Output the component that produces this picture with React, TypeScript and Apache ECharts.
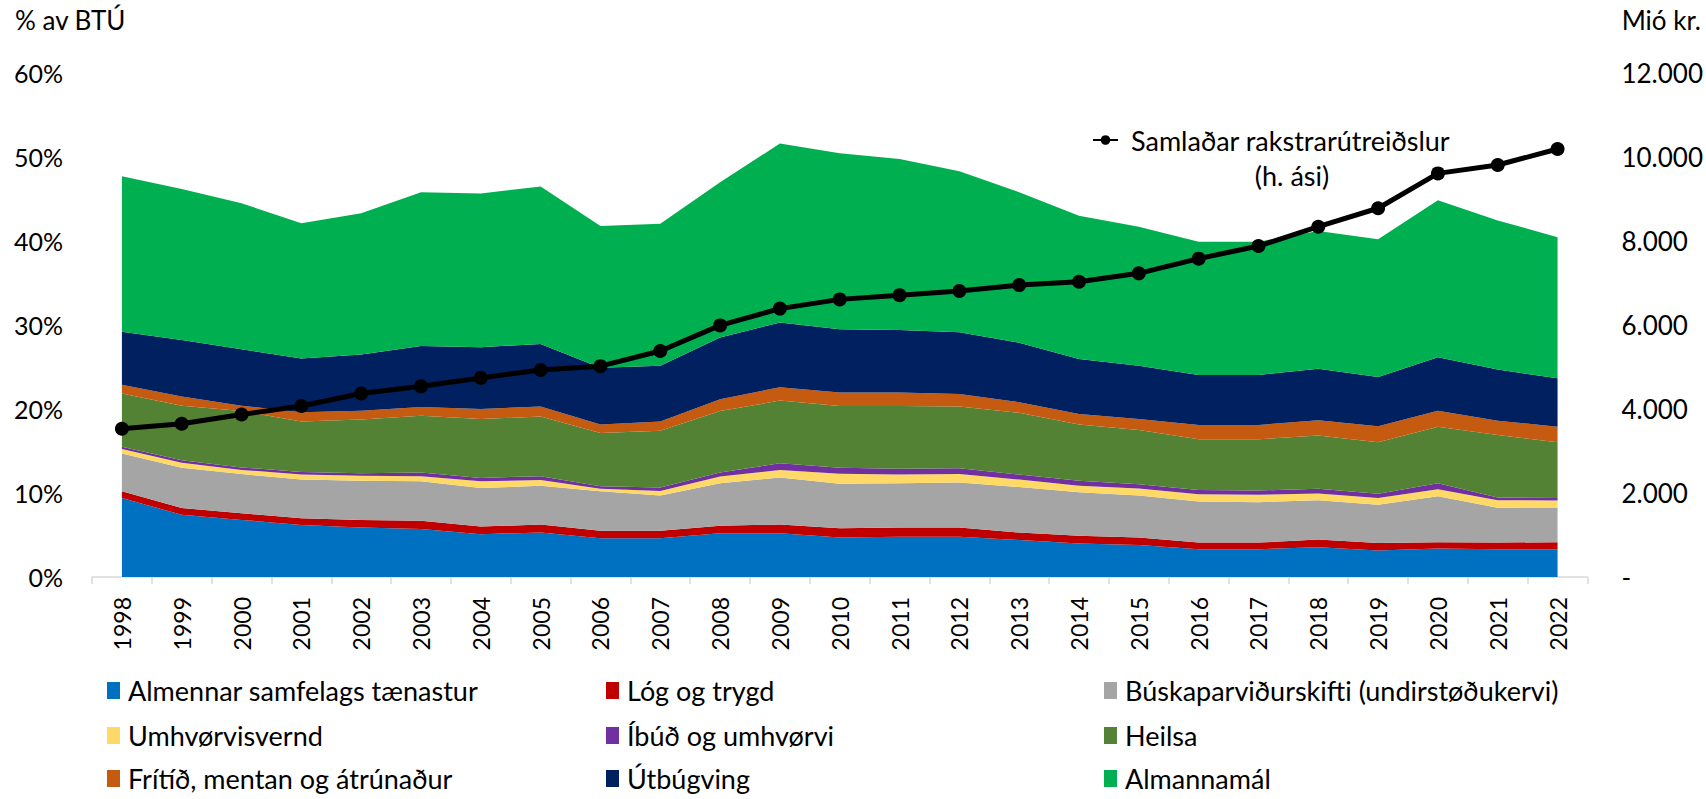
import React, { useEffect, useRef } from "react";
import * as echarts from "echarts";

const years = ["1998","1999","2000","2001","2002","2003","2004","2005","2006","2007","2008","2009","2010","2011","2012","2013","2014","2015","2016","2017","2018","2019","2020","2021","2022"];

const almennar = [9.4, 7.4, 6.8, 6.2, 5.9, 5.7, 5.1, 5.3, 4.6, 4.6, 5.2, 5.2, 4.7, 4.8, 4.8, 4.4, 4.0, 3.8, 3.3, 3.3, 3.55, 3.15, 3.4, 3.3, 3.3];
const logOgTrygd = [0.8, 0.8, 0.8, 0.8, 0.9, 1.0, 0.9, 0.95, 0.9, 0.9, 0.9, 1.05, 1.1, 1.1, 1.1, 0.9, 0.9, 0.9, 0.8, 0.8, 0.9, 0.9, 0.75, 0.8, 0.85];
const buskapar = [4.5, 4.8, 4.65, 4.6, 4.65, 4.7, 4.6, 4.6, 4.7, 4.2, 5.05, 5.6, 5.3, 5.25, 5.35, 5.4, 5.2, 5.0, 4.9, 4.8, 4.7, 4.55, 5.45, 4.15, 4.05];
const umhvorvisvernd = [0.55, 0.6, 0.5, 0.6, 0.6, 0.6, 0.8, 0.7, 0.3, 0.55, 0.8, 0.9, 1.2, 1.05, 1.0, 0.9, 0.75, 0.85, 0.85, 0.9, 0.8, 0.8, 0.85, 0.9, 0.9];
const ibud = [0.25, 0.3, 0.3, 0.3, 0.3, 0.45, 0.4, 0.45, 0.3, 0.4, 0.5, 0.8, 0.7, 0.7, 0.7, 0.6, 0.6, 0.5, 0.5, 0.5, 0.55, 0.5, 0.7, 0.3, 0.3];
const heilsa = [6.35, 6.5, 6.7, 6.0, 6.4, 6.75, 7.0, 7.1, 6.35, 6.75, 7.3, 7.45, 7.35, 7.45, 7.35, 7.35, 6.7, 6.45, 6.05, 6.1, 6.35, 6.15, 6.75, 7.45, 6.65];
const fritid = [1.05, 1.1, 0.65, 1.1, 1.05, 1.05, 1.2, 1.2, 1.0, 1.1, 1.4, 1.6, 1.6, 1.6, 1.5, 1.25, 1.25, 1.3, 1.7, 1.7, 1.8, 1.9, 1.9, 1.7, 1.85];
const utbugving = [6.3, 6.7, 6.7, 6.4, 6.7, 7.25, 7.35, 7.45, 6.75, 6.65, 7.35, 7.7, 7.55, 7.45, 7.35, 7.1, 6.55, 6.35, 5.95, 5.95, 6.15, 5.85, 6.35, 6.1, 5.75];
const almannamal = [18.5, 18.0, 17.4, 16.1, 16.8, 18.3, 18.3, 18.75, 16.9, 16.9, 18.5, 21.3, 20.95, 20.35, 19.15, 17.9, 17.05, 16.55, 15.85, 15.85, 16.4, 16.4, 18.7, 17.75, 16.8];
const samladar = [3530, 3650, 3870, 4070, 4370, 4540, 4740, 4930, 5020, 5380, 5990, 6390, 6610, 6710, 6810, 6950, 7030, 7230, 7580, 7880, 8340, 8780, 9610, 9810, 10190];

const leftTicks = [0, 10, 20, 30, 40, 50, 60];
const rightTicks = [0, 2000, 4000, 6000, 8000, 10000, 12000];

const areaNames = [
  "Almennar samfelags tænastur",
  "Lóg og trygd",
  "Búskaparviðurskifti (undirstøðukervi)",
  "Umhvørvisvernd",
  "Íbúð og umhvørvi",
  "Heilsa",
  "Frítíð, mentan og átrúnaður",
  "Útbúgving",
  "Almannamál",
];
const areaData = [almennar, logOgTrygd, buskapar, umhvorvisvernd, ibud, heilsa, fritid, utbugving, almannamal];
const areaColors = ["#0070C0", "#C00000", "#A5A5A5", "#FFD966", "#7030A0", "#548235", "#C55A11", "#002060", "#00B050"];
const lineName = "Samlaðar rakstrarútreiðslur";

const FONT = 'Lato, "Open Sans", sans-serif';

function fmtThousands(v: number): string {
  if (v === 0) return "-";
  return String(v).replace(/\B(?=(\d{3})+(?!\d))/g, ".");
}

export default function App() {
  const ref = useRef<HTMLDivElement>(null);
  useEffect(() => {
    if (!ref.current) return;
    const chart = echarts.init(ref.current, undefined, { renderer: "svg" });
    const legendText = { fontFamily: FONT, fontSize: 27, color: "#000", lineHeight: 26, padding: [0, 0, 0, 3] };
    const colLefts = [107, 606, 1104];
    const rowTops = [677, 722, 765];
    const areaLegends = areaNames.map((name, i) => ({
      left: colLefts[i % 3],
      top: rowTops[Math.floor(i / 3)],
      padding: 0,
      itemWidth: 13,
      itemHeight: 17,
      icon: "rect",
      selectedMode: false,
      data: [name],
      textStyle: legendText,
    }));
    const series: any[] = areaNames.map((name, i) => ({
      name,
      type: "line",
      stack: "total",
      data: areaData[i],
      symbol: "none",
      showSymbol: false,
      lineStyle: { width: 0 },
      areaStyle: { color: areaColors[i], opacity: 1 },
      itemStyle: { color: areaColors[i] },
      z: 2,
    }));
    series.push({
      name: lineName,
      type: "line",
      yAxisIndex: 1,
      data: samladar,
      symbol: "circle",
      symbolSize: 14,
      itemStyle: { color: "#000" },
      lineStyle: { color: "#000", width: 5 },
      z: 5,
    });
    chart.setOption({
      animation: false,
      grid: { left: 92, right: 118, top: 73, bottom: 222, containLabel: false },
      xAxis: {
        type: "category",
        data: years,
        boundaryGap: true,
        axisLine: { lineStyle: { color: "#D9D9D9", width: 1.5 } },
        axisTick: { show: true, length: 7, lineStyle: { color: "#D9D9D9", width: 1.5 } },
        axisLabel: { rotate: 90, margin: 20, fontFamily: FONT, fontSize: 23, color: "#000" },
        splitLine: { show: false },
      },
      yAxis: [
        {
          type: "value",
          min: leftTicks[0],
          max: leftTicks[leftTicks.length - 1],
          interval: 10,
          axisLine: { show: false },
          axisTick: { show: false },
          splitLine: { show: false },
          axisLabel: {
            margin: 29,
            fontFamily: FONT,
            fontSize: 25,
            color: "#000",
            padding: [8, 0, 0, 0],
            formatter: (v: number) => `${v}%`,
          },
        },
        {
          type: "value",
          position: "right",
          min: rightTicks[0],
          max: rightTicks[rightTicks.length - 1],
          interval: 2000,
          axisLine: { show: false },
          axisTick: { show: false },
          splitLine: { show: false },
          axisLabel: {
            margin: 34,
            align: "left",
            fontFamily: FONT,
            fontSize: 26,
            color: "#000",
            padding: [8, 0, 0, 0],
            formatter: (v: number) => fmtThousands(v),
          },
        },
      ],
      legend: [
        ...areaLegends,
        {
          left: 1092,
          top: 125,
          padding: 0,
          itemWidth: 25,
          itemHeight: 12,
          selectedMode: false,
          data: [lineName],
          textStyle: { fontFamily: FONT, fontSize: 27, color: "#000", lineHeight: 30, padding: [0, 0, 0, 8] },
        },
      ],
      graphic: [
        {
          type: "text",
          left: 15,
          top: 7,
          style: { text: "% av BTÚ", font: `26px ${FONT}`, fill: "#000" },
        },
        {
          type: "text",
          right: 5,
          top: 7,
          style: { text: "Mió kr.", font: `26px ${FONT}`, fill: "#000" },
        },
        {
          type: "text",
          x: 1292,
          y: 175,
          style: { text: "(h. ási)", font: `27px ${FONT}`, fill: "#000", textAlign: "center", textVerticalAlign: "middle" },
        },
      ],
      series,
    });
    return () => chart.dispose();
  }, []);
  return <div ref={ref} style={{ position: "absolute", left: 0, top: 0, width: 1706, height: 799 }} />;
}
